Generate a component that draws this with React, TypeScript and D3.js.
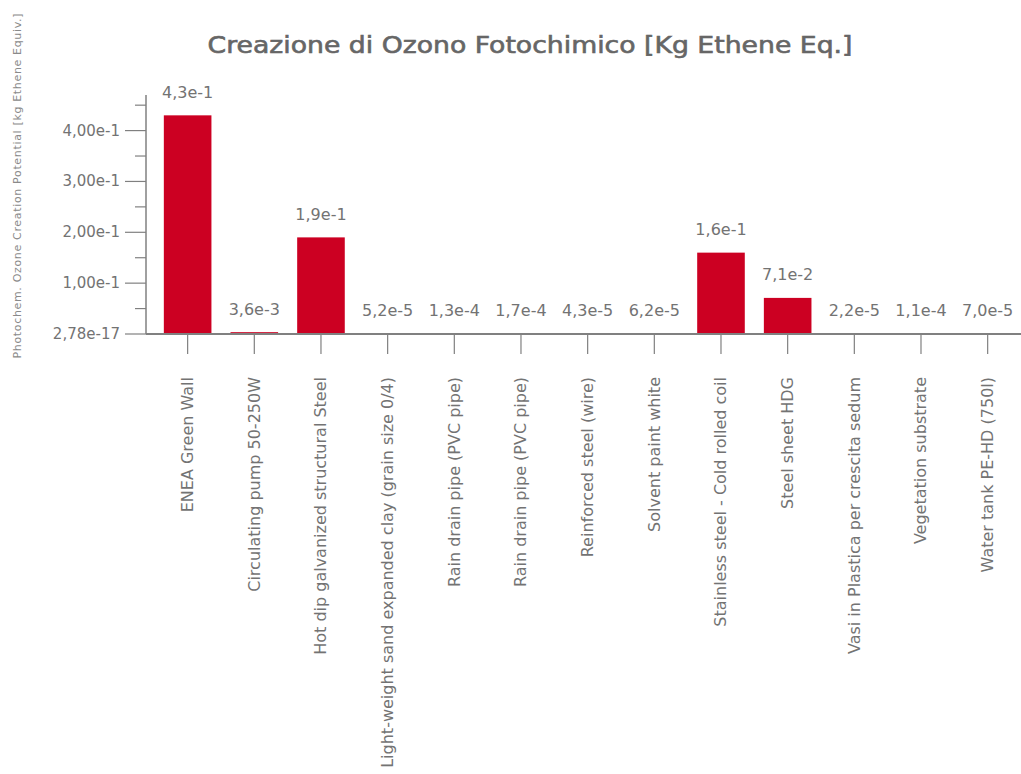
import React from "react";
import * as d3 from "d3";

const categories: string[] = [
  "ENEA Green Wall",
  "Circulating pump 50-250W",
  "Hot dip galvanized structural Steel",
  "Light-weight sand expanded clay (grain size 0/4)",
  "Rain drain pipe (PVC pipe)",
  "Rain drain pipe (PVC pipe)",
  "Reinforced steel (wire)",
  "Solvent paint white",
  "Stainless steel - Cold rolled coil",
  "Steel sheet HDG",
  "Vasi in Plastica per crescita sedum",
  "Vegetation substrate",
  "Water tank PE-HD (750l)",
];

const values: number[] = [
  0.43, 0.0036, 0.19, 5.2e-5, 1.3e-4, 1.7e-4, 4.3e-5, 6.2e-5, 0.16, 0.071, 2.2e-5, 1.1e-4, 7.0e-5,
];

const majorTicks: number[] = [0, 0.1, 0.2, 0.3, 0.4];
const majorTickLabels: string[] = ["2,78e-17", "1,00e-1", "2,00e-1", "3,00e-1", "4,00e-1"];
const minorTicks: number[] = [0.05, 0.15, 0.25, 0.35, 0.45];

const title = "Creazione di Ozono Fotochimico [Kg Ethene Eq.]";
const yTitle = "Photochem. Ozone Creation Potential [kg Ethene Equiv.]";

const W = 1021;
const H = 774;
const axisX = 146;
const baseY = 334;
const font = "'DejaVu Sans', Verdana, sans-serif";
const textColor = "#737373";
const axisColor = "#808080";
const barColor = "#cc0022";

const fmt = (v: number) => v.toExponential(1).replace(".", ",");

export default function App() {
  const x = d3
    .scaleBand<number>()
    .domain(d3.range(categories.length))
    .range([154.3, 1021])
    .paddingInner(0.286)
    .paddingOuter(0.143);
  const y = d3.scaleLinear().domain([0, 0.47]).range([baseY, 95]);

  return (
    <svg
      width={W}
      height={H}
      style={{ position: "absolute", left: 0, top: 0, background: "#fff" }}
      fontFamily={font}
    >
      <text
        x={530}
        y={53}
        textAnchor="middle"
        fontSize={23}
        fill="#666"
        stroke="#666"
        strokeWidth={0.6}
        textLength={645}
        lengthAdjust="spacingAndGlyphs"
      >
        {title}
      </text>
      <text
        transform={`translate(17,186) rotate(-90)`}
        textAnchor="middle"
        dominantBaseline="central"
        fontSize={11}
        fill="#8a8a8a"
        textLength={345}
        lengthAdjust="spacing"
      >
        {yTitle}
      </text>

      {/* bars */}
      {values.map((v, i) => (
        <rect
          key={"b" + i}
          x={x(i)!}
          y={y(v)}
          width={x.bandwidth()}
          height={baseY - y(v)}
          fill={barColor}
        />
      ))}

      {/* y axis */}
      <line x1={axisX} x2={axisX} y1={y(0.47)} y2={baseY} stroke={axisColor} strokeWidth={1.5} />
      {majorTicks.map((t, i) => (
        <g key={"mj" + i}>
          <line x1={axisX - 21} x2={axisX} y1={y(t)} y2={y(t)} stroke={axisColor} strokeWidth={1.2} />
          <text
            x={axisX - 26}
            y={y(t)}
            textAnchor="end"
            dominantBaseline="central"
            fontSize={15}
            fill={textColor}
          >
            {majorTickLabels[i]}
          </text>
        </g>
      ))}
      {minorTicks.map((t, i) => (
        <line key={"mn" + i} x1={axisX - 11} x2={axisX} y1={y(t)} y2={y(t)} stroke={axisColor} strokeWidth={1.2} />
      ))}

      {/* x axis */}
      <line x1={axisX} x2={W} y1={baseY} y2={baseY} stroke={axisColor} strokeWidth={2} />
      {categories.map((c, i) => {
        const cx = x(i)! + x.bandwidth() / 2;
        return (
          <g key={"x" + i}>
            <line x1={cx} x2={cx} y1={baseY} y2={354} stroke={axisColor} strokeWidth={1.2} />
            <text
              transform={`translate(${cx},377) rotate(-90)`}
              textAnchor="end"
              dominantBaseline="central"
              fontSize={16}
              fill={textColor}
            >
              {c}
            </text>
          </g>
        );
      })}

      {/* value labels */}
      {values.map((v, i) => (
        <text
          key={"v" + i}
          x={x(i)! + x.bandwidth() / 2}
          y={y(v) - 23}
          textAnchor="middle"
          dominantBaseline="central"
          fontSize={16}
          fill={textColor}
        >
          {fmt(v)}
        </text>
      ))}
    </svg>
  );
}
